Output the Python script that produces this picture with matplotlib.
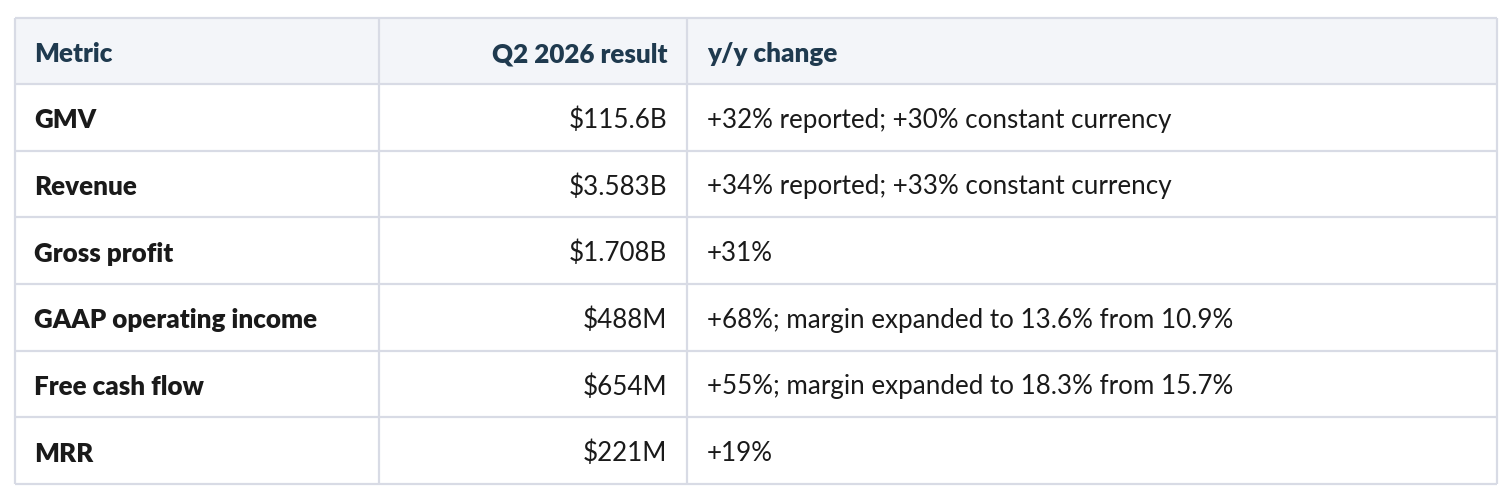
import matplotlib.pyplot as plt
from matplotlib.patches import Rectangle

# table content
headers = ['Metric', 'Q2 2026 result', 'y/y change']
metrics = ['GMV', 'Revenue', 'Gross profit', 'GAAP operating income', 'Free cash flow', 'MRR']
results = ['$115.6B', '$3.583B', '$1.708B', '$488M', '$654M', '$221M']
changes = ['+32% reported; +30% constant currency',
           '+34% reported; +33% constant currency',
           '+31%',
           '+68%; margin expanded to 13.6% from 10.9%',
           '+55%; margin expanded to 18.3% from 15.7%',
           '+19%']

plt.rcParams['font.family'] = ['Lato', 'DejaVu Sans']

W, H = 1512, 502
fig = plt.figure(figsize=(W / 100, H / 100), dpi=100)
ax = fig.add_axes([0, 0, 1, 1])
ax.set_xlim(0, W)
ax.set_ylim(H, 0)
ax.axis('off')

left, right = 15, 1497
top, head_bot = 19, 85
row_h = (485 - head_bot) / len(metrics)
col_x = [left, 379, 687, right]
border = '#d8dbe5'
head_bg = '#f3f5f9'
head_col = '#1f3a4f'
body_col = '#1a1a1a'
fs = 18.7
bold = 'heavy'

ax.add_patch(Rectangle((left, top), right - left, head_bot - top, facecolor=head_bg, edgecolor='none'))

# grid lines
ys = [top, head_bot] + [head_bot + row_h * (i + 1) for i in range(len(metrics))]
for y in ys:
    ax.plot([left, right], [y, y], color=border, lw=1.6, solid_capstyle='butt')
for x in col_x:
    ax.plot([x, x], [top, ys[-1]], color=border, lw=1.6, solid_capstyle='butt')

# header
hy = (top + head_bot) / 2 + 2
ax.text(34, hy, headers[0], ha='left', va='center', fontsize=fs, fontweight=bold, color=head_col)
ax.text(667, hy, headers[1], ha='right', va='center', fontsize=fs, fontweight=bold, color=head_col)
ax.text(707, hy, headers[2], ha='left', va='center', fontsize=fs, fontweight=bold, color=head_col)

for i, (m, r, c) in enumerate(zip(metrics, results, changes)):
    y = head_bot + row_h * (i + 0.5) + 2
    ax.text(34, y, m, ha='left', va='center', fontsize=fs, fontweight=bold, color=body_col)
    ax.text(667, y, r, ha='right', va='center', fontsize=fs, color=body_col)
    ax.text(707, y, c, ha='left', va='center', fontsize=fs, color=body_col)

fig.savefig('out.png', dpi=100, facecolor='white')
